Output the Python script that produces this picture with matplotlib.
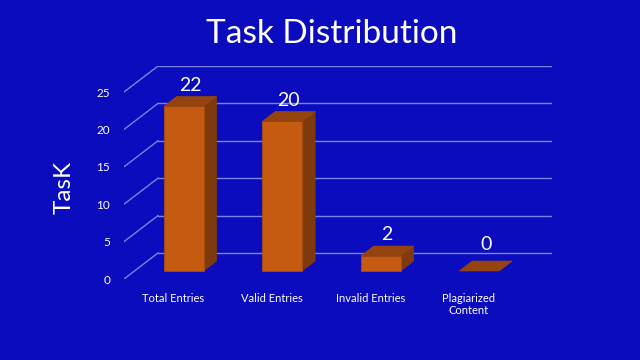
import matplotlib
matplotlib.use("Agg")
import matplotlib.pyplot as plt
from matplotlib.patches import Polygon

# Data
categories = ["Total Entries", "Valid Entries", "Invalid Entries", "Plagiarized\nContent"]
task_counts = [22, 20, 2, 0]
y_ticks = [0, 5, 10, 15, 20, 25]

# Colours
bg_color = "#0A0CBE"
grid_color = "#7C82E6"
front_color = "#C55A11"
side_color = "#7E3A0B"
top_color = "#96440F"

# Oblique "3D" depth of the plot box, in data units
depth_x = 0.345
depth_y = 3.48
bar_width = 0.405
bar_depth = 0.38            # fraction of the box depth used by a bar
bar_front = (1 - bar_depth) / 2

fig = plt.figure(figsize=(6.4, 3.6), dpi=100, facecolor=bg_color)
ax = fig.add_axes([124 / 640, 81 / 360, 428 / 640, 213 / 360])
ax.set_facecolor(bg_color)
ax.set_xlim(-0.5, 3.5 + depth_x)
ax.set_ylim(0, 25 + depth_y)
for spine in ax.spines.values():
    spine.set_visible(False)

# Back wall gridlines and the left wall diagonals
for v in y_ticks:
    ax.plot([-0.5 + depth_x, 3.5 + depth_x], [v + depth_y, v + depth_y],
            color=grid_color, lw=1, zorder=1)
    ax.plot([-0.5, -0.5 + depth_x], [v, v + depth_y], color=grid_color, lw=1, zorder=1)

# Bars
for i, value in enumerate(task_counts):
    x0 = i - bar_width / 2 + bar_front * depth_x
    x1 = i + bar_width / 2 + bar_front * depth_x
    y0 = bar_front * depth_y
    y1 = value + y0
    bx = bar_depth * depth_x
    by = bar_depth * depth_y
    if value > 0:
        ax.add_patch(Polygon([(x1, y0), (x1 + bx, y0 + by), (x1 + bx, y1 + by), (x1, y1)],
                             closed=True, facecolor=side_color, edgecolor=side_color, lw=0.5, zorder=3))
        ax.add_patch(Polygon([(x0, y0), (x1, y0), (x1, y1), (x0, y1)],
                             closed=True, facecolor=front_color, edgecolor="#A84C0E", lw=0.6, zorder=4))
    ax.add_patch(Polygon([(x0, y1), (x1, y1), (x1 + bx, y1 + by), (x0 + bx, y1 + by)],
                         closed=True, facecolor=top_color, edgecolor=top_color, lw=0.5, zorder=4))
    lift = 2 if value > 0 else 6
    ax.annotate(str(value), (i + 0.5 * depth_x, y1 + by), xytext=(0, lift), textcoords="offset points",
                ha="center", va="bottom", color="white", fontsize=14, family="Lato", zorder=5)

# Axis ticks on the front plane
ax.set_yticks(y_ticks)
ax.set_yticklabels([str(v) for v in y_ticks], color="white", fontsize=8.5, family="Lato")
ax.set_xticks(range(len(categories)))
ax.set_xticklabels(categories, color="white", fontsize=8, family="Lato", linespacing=1.15)
ax.tick_params(axis="both", length=0)
ax.tick_params(axis="y", pad=10)
ax.tick_params(axis="x", pad=10)

ax.set_ylabel("TasK", color="white", fontsize=17.5, family="Lato")
ax.yaxis.set_label_coords(-0.1145, 0.432)

fig.text(0.519, 0.905, "Task Distribution", color="white", fontsize=24, family="Lato",
         ha="center", va="center")

fig.savefig("out.png", dpi=100, facecolor=bg_color)
